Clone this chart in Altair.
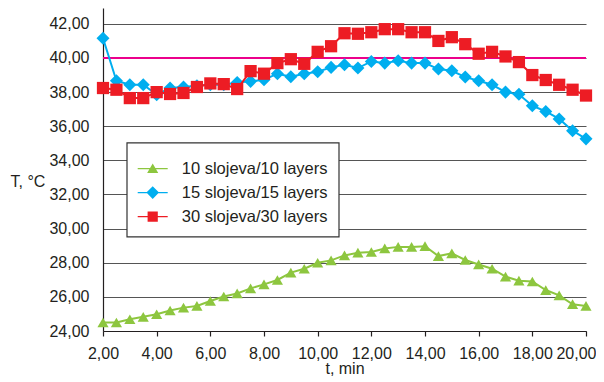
import altair as alt
import pandas as pd

# ---- data ----
t_min = [2.0, 2.5, 3.0, 3.5, 4.0, 4.5, 5.0, 5.5, 6.0, 6.5, 7.0, 7.5, 8.0, 8.5,
         9.0, 9.5, 10.0, 10.5, 11.0, 11.5, 12.0, 12.5, 13.0, 13.5, 14.0, 14.5,
         15.0, 15.5, 16.0, 16.5, 17.0, 17.5, 18.0, 18.5, 19.0, 19.5, 20.0]

layers10 = [24.50, 24.50, 24.69, 24.83, 24.98, 25.20, 25.37, 25.47, 25.76, 26.02,
            26.20, 26.50, 26.73, 26.99, 27.42, 27.65, 28.00, 28.14, 28.43,
            28.59, 28.63, 28.84, 28.93, 28.93, 28.97, 28.39, 28.55, 28.16, 27.90,
            27.65, 27.19, 26.95, 26.90, 26.40, 26.09, 25.57, 25.47]

layers15 = [41.16, 38.67, 38.43, 38.43, 37.85, 38.24, 38.30, 38.37, 38.43, 38.43,
            38.57, 38.63, 38.73, 39.08, 38.90, 39.08, 39.19, 39.45, 39.60,
            39.41, 39.80, 39.70, 39.84, 39.70, 39.70, 39.35, 39.25, 38.88, 38.67,
            38.43, 38.00, 37.87, 37.20, 36.87, 36.43, 35.74, 35.26]

layers30 = [38.24, 38.14, 37.65, 37.65, 38.00, 37.89, 37.95, 38.30, 38.51, 38.47,
            38.18, 39.23, 39.08, 39.70, 39.93, 39.66, 40.36, 40.69, 41.45,
            41.42, 41.51, 41.69, 41.69, 41.51, 41.51, 41.00, 41.22, 40.81, 40.25,
            40.36, 40.09, 39.76, 39.00, 38.71, 38.43, 38.14, 37.80]

series_names = ["10 slojeva/10 layers", "15 slojeva/15 layers", "30 slojeva/30 layers"]
series_values = [layers10, layers15, layers30]
series_colors = ["#8DC63F", "#00AEEF", "#ED1C24"]
series_shapes = ["triangle-up", "diamond", "square"]
series_sizes = [125, 170, 150]

limit_value = [40.0]
x_ticks = [2, 4, 6, 8, 10, 12, 14, 16, 18, 20]
y_ticks = [24, 26, 28, 30, 32, 34, 36, 38, 40, 42]

# legend symbols: a line segment with the marker on it (custom SVG paths)
legend_paths = [
    "M-1,-0.045H1V0.045H-1Z M0,-0.34L0.37,0.3L-0.37,0.3Z",
    "M-1,-0.045H1V0.045H-1Z M0,-0.42L0.42,0L0,0.42L-0.42,0Z",
    "M-1,-0.045H1V0.045H-1Z M-0.34,-0.34H0.34V0.34H-0.34Z",
]

rows = []
for name, vals in zip(series_names, series_values):
    for t, v in zip(t_min, vals):
        rows.append({"t": t, "T": v, "series": name})
df = pd.DataFrame(rows)

FONT = "Liberation Sans"
TXT = "#231F20"

x_enc = alt.X(
    "t:Q",
    scale=alt.Scale(domain=[2, 20], nice=False, zero=False),
    axis=alt.Axis(
        values=x_ticks, grid=False, title="t, min",
        labelExpr="replace(format(datum.value, '.2f'), '.', ',')",
        labelAlign=alt.condition("datum.value >= 20", alt.value("right"), alt.value("center")),
        labelOffset=alt.condition("datum.value >= 20", alt.value(10), alt.value(0)),
        labelFont=FONT, labelFontSize=16, labelColor=TXT, labelPadding=9,
        titleFont=FONT, titleFontSize=16, titleFontWeight="normal", titleColor=TXT,
        titleBaseline="alphabetic", titleY=42,
        domainColor="#231F20", domainWidth=1.2, tickColor="#231F20", tickSize=5,
        tickWidth=1.2, labelFlush=False, labelOverlap=False,
    ),
)
y_enc = alt.Y(
    "T:Q",
    scale=alt.Scale(domain=[24, 42.93], nice=False, zero=False),
    axis=alt.Axis(
        values=y_ticks, grid=True, gridColor="#555555", gridWidth=1.2,
        ticks=False, title="T, °C",
        labelExpr="replace(format(datum.value, '.2f'), '.', ',')",
        labelFont=FONT, labelFontSize=16, labelColor=TXT, labelPadding=14,
        titleFont=FONT, titleFontSize=16, titleFontWeight="normal", titleColor=TXT,
        titleAngle=0, titleAlign="left", titleBaseline="alphabetic",
        titleX=-93, titleY=178,
        domainColor="#231F20", domainWidth=1.2, labelOverlap=False,
    ),
)

color_scale = alt.Scale(domain=series_names, range=series_colors)

base = alt.Chart(df)

rule = alt.Chart(pd.DataFrame({"T": limit_value})).mark_rule(
    color="#EC008C", strokeWidth=2
).encode(y=y_enc)

layers = [rule]
for name, shape, size, col in zip(series_names, series_shapes, series_sizes, series_colors):
    sub = base.transform_filter(alt.datum.series == name)
    layers.append(sub.mark_line(strokeWidth=2, color=col).encode(x=x_enc, y=y_enc))
    layers.append(
        sub.mark_point(filled=True, opacity=1, shape=shape, size=size, color=col).encode(
            x=x_enc, y=y_enc
        )
    )

leg = alt.Legend(
    orient="none", legendX=23.7, legendY=134.6, title=None,
    fillColor="white", strokeColor="#333333", padding=11,
    symbolSize=900, symbolStrokeWidth=0, rowPadding=-10,
    labelFont=FONT, labelFontSize=16.5, labelColor=TXT, labelOffset=14,
    labelLimit=400,
    labelExpr="datum.label + '\u00a0\u00a0\u00a0'",
)

legend_layer = base.mark_point(filled=True, opacity=1, size=0).encode(
    x=x_enc, y=y_enc,
    color=alt.Color("series:N", scale=color_scale, legend=leg),
    shape=alt.Shape("series:N", scale=alt.Scale(domain=series_names, range=legend_paths), legend=leg),
)
layers.append(legend_layer)

chart = alt.layer(*layers).properties(
    width=483, height=323,
    padding={"left": 95, "top": 0, "right": 10, "bottom": 46},
    autosize=alt.AutoSizeParams(type="none"),
).configure_view(stroke=None).configure_legend(strokeWidth=1.2)

chart.save("out.html", embed_options={"renderer": "svg", "actions": False})
